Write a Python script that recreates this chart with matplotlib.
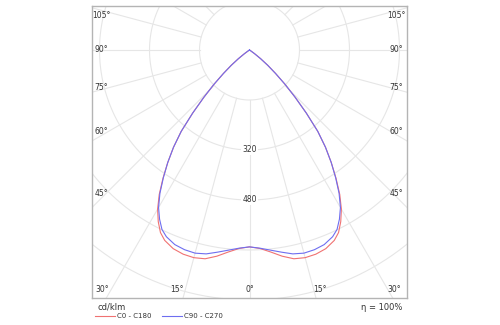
import numpy as np
import matplotlib
matplotlib.use("Agg")
import matplotlib.pyplot as plt
from matplotlib.lines import Line2D

# ── Data (cd/klm, angle from nadir in degrees) ─────────────
angles = [0, 3, 6, 9, 12, 15, 18, 21, 24, 26, 28, 30, 32, 34, 36, 38,
          40, 42, 44, 46, 48, 50, 52, 54, 56, 58, 60, 90, 120, 150, 180]
c0_c180 = [630, 636, 650, 668, 683, 688, 687, 681, 667, 650, 622, 588, 545, 495, 445, 395,
           340, 272, 210, 158, 112, 76, 45, 20, 5, 0, 0, 0, 0, 0, 0]
c90_c270 = [630, 635, 644, 655, 667, 673, 672, 667, 654, 639, 613, 582, 541, 493, 445, 395,
            340, 272, 210, 158, 112, 76, 45, 20, 5, 0, 0, 0, 0, 0, 0]
ring_values = [160, 320, 480, 640, 800]
ring_labels = ["320", "480"]
side_labels = ["105°", "90°", "75°", "60°", "45°"]
bottom_labels = ["30°", "15°", "0°", "15°", "30°"]
series_names = ["C0 - C180", "C90 - C270"]
efficiency = "η = 100%"
unit = "cd/klm"

RED = "#f07272"
BLUE = "#6e6ef0"
GRID = "#e6e6e6"
TXT = "#333333"

# px -> data: 1 px = 3.2 cd/klm, centre at (250, 50) px
S = 3.2
def px(x, y):
    return (x - 250) * S, (50 - y) * S

fig = plt.figure(figsize=(5, 3.25), dpi=100)
ax = fig.add_axes([92 / 500, 27 / 325, 315 / 500, 292 / 325])
ax.set_xlim(-157.5 * S, 157.5 * S)
ax.set_ylim(-248 * S, 44 * S)
ax.set_xticks([])
ax.set_yticks([])
for sp in ax.spines.values():
    sp.set_color("#b4b4b4")
    sp.set_linewidth(1.0)

# ── Grid ──────────────────────────────────────────────────
t = np.linspace(0, 2 * np.pi, 400)
for r in ring_values:
    ax.plot(r * np.cos(t), r * np.sin(t), color=GRID, lw=0.8, zorder=1)
for a in range(0, 360, 15):
    th = np.radians(a)
    ax.plot([160 * np.sin(th), 1200 * np.sin(th)],
            [-160 * np.cos(th), -1200 * np.cos(th)], color=GRID, lw=0.8, zorder=1)

# ── Curves ────────────────────────────────────────────────
def curve(vals):
    th = np.radians(np.concatenate([-np.array(angles[::-1]), np.array(angles[1:])]))
    r = np.concatenate([np.array(vals[::-1]), np.array(vals[1:])])
    return r * np.sin(th), -r * np.cos(th)

x0, y0 = curve(c0_c180)
x1, y1 = curve(c90_c270)
ax.plot(x0, y0, color=RED, lw=0.8, zorder=3)
ax.plot(x1, y1, color=BLUE, lw=0.8, zorder=4)

# ── Labels ────────────────────────────────────────────────
fs = 5.5
for lab, val in zip(ring_labels, [320, 480]):
    ax.text(0, -val, lab, ha="center", va="center", fontsize=fs, color=TXT,
            bbox=dict(facecolor="white", edgecolor="none", pad=0.6), zorder=2)

side_y = [15, 50, 88, 132, 193]
for lab, yy in zip(side_labels, side_y):
    ax.text(*px(102, yy), lab, ha="center", va="center", fontsize=fs, color=TXT, zorder=5)
    ax.text(*px(397, yy), lab, ha="center", va="center", fontsize=fs, color=TXT, zorder=5)

bottom_x = [103, 177, 250, 320, 395]
for lab, xx in zip(bottom_labels, bottom_x):
    ax.text(*px(xx, 290), lab, ha="center", va="center", fontsize=fs, color=TXT, zorder=5)

fig.text(97 / 500, 1 - 307 / 325, unit, ha="left", va="center", fontsize=6, color=TXT)
fig.text(402 / 500, 1 - 307 / 325, efficiency, ha="right", va="center", fontsize=6, color=TXT)

handles = [Line2D([], [], color=RED, lw=0.8), Line2D([], [], color=BLUE, lw=0.8)]
fig.legend(handles, series_names, loc="center left", bbox_to_anchor=(95 / 500, 1 - 316.5 / 325),
           ncol=2, frameon=False, fontsize=5, handlelength=2.9, handletextpad=0.3,
           columnspacing=1.45, borderpad=0, borderaxespad=0, labelcolor=TXT)

fig.savefig("out.png", dpi=100)
